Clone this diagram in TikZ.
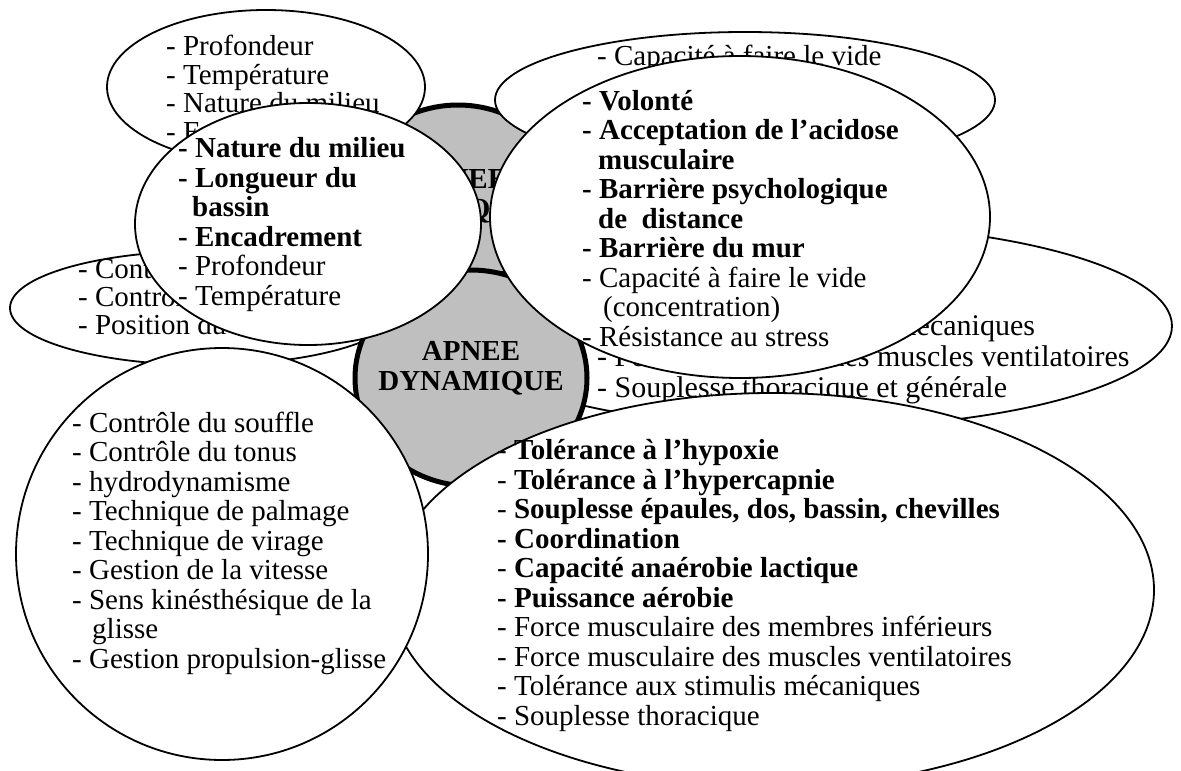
\documentclass[tikz,border=0pt]{standalone}
\usepackage{fontspec}
\setmainfont{Liberation Serif}
\usetikzlibrary{shapes.geometric}
\definecolor{petalgray}{RGB}{191,191,191}

\begin{document}
\begin{tikzpicture}[x=1pt,y=-1pt,
  oval/.style={ellipse, draw, line width=1.8pt, fill=white, inner sep=0pt},
  core/.style={ellipse, draw, line width=5pt, fill=petalgray, inner sep=0pt},
  items/.style={anchor=base west, align=left, inner sep=0pt, font=\fontsize{29}{29.5}\selectfont},
  title/.style={anchor=base, align=center, inner sep=0pt, font=\fontsize{29}{30}\selectfont\bfseries}]
  \useasboundingbox (0,0) rectangle (1181,771);

  % Statique (behind everything), text placed by its last line
  \node[core, minimum width=232pt, minimum height=220pt] (statique) at (458,215) {};
  \node[title] (statiquetxt) at (458,218) {APNEE\\STATIQUE};

  % Back ellipses
  \node[oval, minimum width=318pt, minimum height=154pt] (milieuback) at (266,87) {};
  \node[items, font=\fontsize{29}{28.5}\selectfont] (milieubacktxt) at (166,141)
    {- Profondeur\\- Température\\- Nature du milieu\\- Encadrement};
  \node[oval, minimum width=500pt, minimum height=136pt] (mentalback) at (745,100) {};
  \node[items] (mentalbacktxt) at (597,65) {- Capacité à faire le vide};
  \node[oval, minimum width=390pt, minimum height=114pt] (techback) at (205,308) {};
  \node[items, font=\fontsize{29}{28}\selectfont] (techbacktxt) at (78,334)
    {- Contrôle du souffle\\- Contrôle du tonus\\- Position du corps};
  \node[oval, minimum width=724pt, minimum height=204pt] (physback) at (810,326) {};
  \node[items, font=\fontsize{30}{31}\selectfont] (physbacktxt) at (597,397)
    {- Tolérance aux stimulis mécaniques\\- Force musculaire des muscles ventilatoires\\- Souplesse thoracique et générale};

  % Dynamique (centre)
  \node[core, minimum width=232pt, minimum height=216pt] (dynamique) at (471,378) {};
  \node[title] (dynamiquetxt) at (471,390) {APNEE\\DYNAMIQUE};

  % Front ellipses
  \node[oval, minimum width=764pt, minimum height=394pt] (physique) at (772,590) {};
  \node[items] (physiquetxt) at (497,725) {- \textbf{Tolérance à l’hypoxie}\\
    - \textbf{Tolérance à l’hypercapnie}\\
    - \textbf{Souplesse épaules, dos, bassin, chevilles}\\
    \textbf{- Coordination}\\
    - \textbf{Capacité anaérobie lactique}\\
    \textbf{- Puissance aérobie}\\
    - Force musculaire des membres inférieurs\\
    - Force musculaire des muscles ventilatoires\\
    - Tolérance aux stimulis mécaniques\\
    - Souplesse thoracique};

  \node[oval, minimum width=412pt, minimum height=412pt] (technique) at (222,554) {};
  \node[items] (techniquetxt) at (72,668) {- Contrôle du souffle\\- Contrôle du tonus\\- hydrodynamisme\\
    - Technique de palmage\\- Technique de virage\\- Gestion de la vitesse\\
    - Sens kinésthésique de la\\\hspace*{20pt}glisse\\- Gestion propulsion-glisse};

  \node[oval, minimum width=346pt, minimum height=242pt] (milieu) at (308,224) {};
  \node[items] (milieutxt) at (178,305) {\textbf{- Nature du milieu}\\\textbf{- Longueur du}\\
    \hspace*{14pt}\textbf{bassin}\\\textbf{- Encadrement}\\- Profondeur\\- Température};

  \node[oval, minimum width=500pt, minimum height=322pt] (mental) at (740,217) {};
  \node[items] (mentaltxt) at (582,346) {\textbf{- Volonté}\\\textbf{- Acceptation de l’acidose}\\
    \hspace*{16pt}\textbf{musculaire}\\\textbf{- Barrière psychologique}\\
    \hspace*{16pt}\textbf{de\ \ distance}\\\textbf{- Barrière du mur}\\
    - Capacité à faire le vide\\\hspace*{21pt}(concentration)\\- Résistance au stress};
\end{tikzpicture}
\end{document}
